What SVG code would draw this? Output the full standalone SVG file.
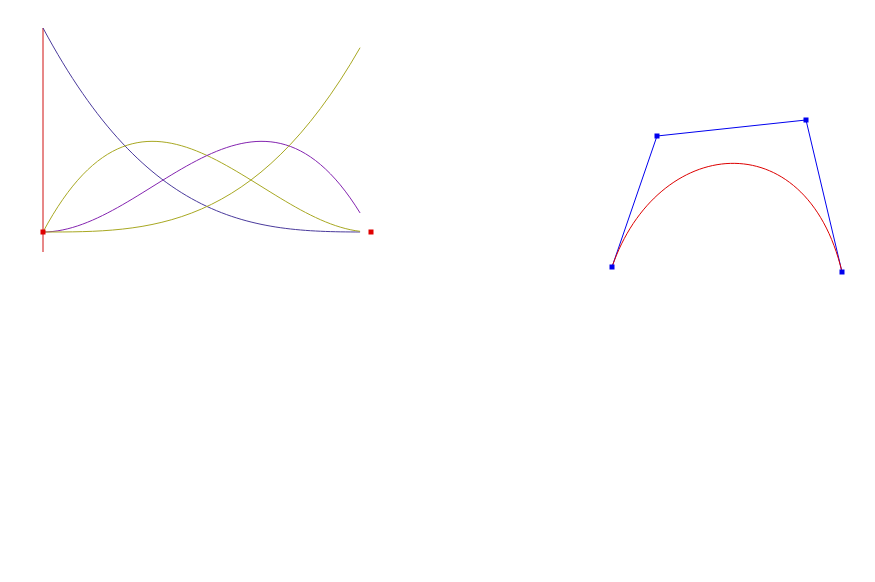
<svg xmlns="http://www.w3.org/2000/svg" width="875" height="582" viewBox="0 0 875 582">
<style>
.c{fill:none;stroke-width:1}
.b0{stroke:#4a3a9c}
.b1{stroke:#a8a822}
.b2{stroke:#8424b0}
.b3{stroke:#a8a822}
.axis{stroke:#d01010;stroke-width:1}
.rp{fill:#e00000}
.bp{fill:#0000ee}
.poly{fill:none;stroke:#0000ee;stroke-width:1}
.bez{fill:none;stroke:#dd0000;stroke-width:1}
</style>
<rect width="875" height="582" fill="#ffffff"/>
<g id="basis">
<line class="axis" x1="43" y1="28" x2="43" y2="252"/>
<path class="c b0" d="M43,28 C148.69,225.2 254.38,231.77 360.07,231.99"/>
<path class="c b1" d="M43,232 C148.69,34.8 254.38,218.85 360.07,231.34"/>
<path class="c b2" d="M43,232 C148.69,232 254.38,41.38 360.07,212.94"/>
<path class="c b3" d="M43,232 C148.69,232 254.38,232 360.07,47.7"/>
<rect class="rp" x="40.5" y="229.5" width="5" height="5"/>
<rect class="rp" x="368.5" y="229.5" width="5" height="5"/>
</g>
<g id="bezier">
<polyline class="poly" points="612,267 657,136 806,120 842,272"/>
<path class="bez" d="M612,267 C657,136 806,120 842,272"/>
<rect class="bp" x="609.5" y="264.5" width="5" height="5"/>
<rect class="bp" x="654.5" y="133.5" width="5" height="5"/>
<rect class="bp" x="803.5" y="117.5" width="5" height="5"/>
<rect class="bp" x="839.5" y="269.5" width="5" height="5"/>
</g>
</svg>
